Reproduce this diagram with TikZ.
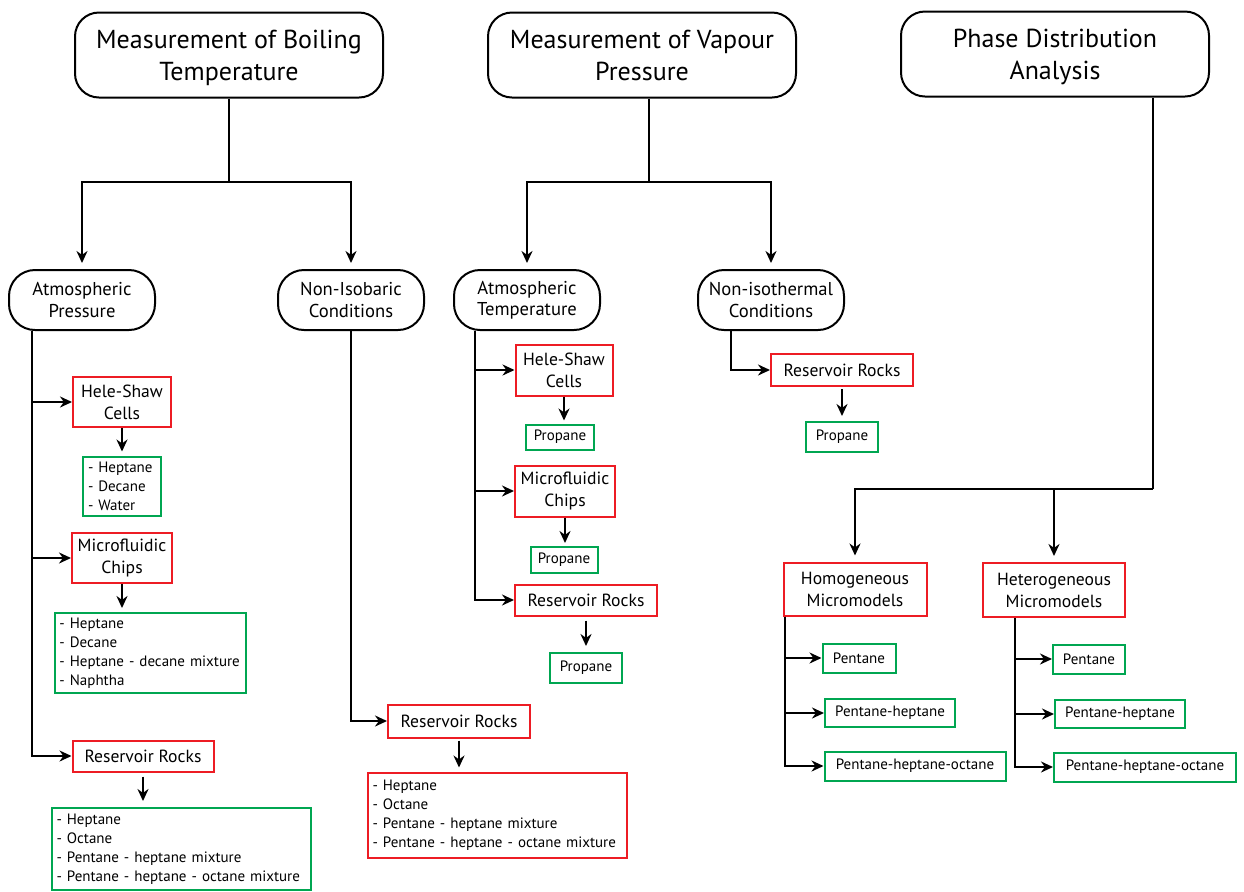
\documentclass[tikz,border=0pt]{standalone}
\usepackage{fontspec}
\setmainfont{PT Sans}
\usetikzlibrary{arrows.meta,positioning}
\definecolor{boxred}{RGB}{237,28,36}
\definecolor{boxgreen}{RGB}{0,166,81}

\tikzset{
  base/.style={line width=1pt, inner sep=0pt, align=center},
  topbox/.style={base, draw, rounded corners=12pt, minimum width=154pt, minimum height=42.5pt, text depth=0pt, font=\fontsize{13}{16}\selectfont},
  subbox/.style={base, draw, rounded corners=13pt, minimum width=73pt, minimum height=30pt, font=\fontsize{9.3}{10.7}\selectfont},
  methbox/.style={base, draw=boxred, font=\fontsize{8.8}{11}\selectfont},
  fluidbox/.style={base, draw=boxgreen, font=\fontsize{7.5}{9.5}\selectfont},
  listbox/.style={fluidbox, align=left, inner xsep=2.5pt},
  link/.style={line width=1pt},
  arr/.style={line width=1pt, -{Stealth[length=6pt,width=5.5pt]}},
}

\begin{document}
\begin{tikzpicture}[x=0.5pt, y=-0.5pt]
\useasboundingbox (0,0) rectangle (1244,891);
% Top level
\node[topbox] (boil) at (229,55) {Measurement of Boiling\\Temperature};
\node[topbox] (vap) at (642,55) {Measurement of Vapour\\Pressure};
\node[topbox] (phase) at (1055,54) {Phase Distribution\\Analysis};
% Conditions
\node[subbox] (atmp) at (82,300) {Atmospheric\\Pressure};
\node[subbox] (noniso) at (351,300) {Non-Isobaric\\Conditions};
\node[subbox] (atmt) at (527,300) {Atmospheric\\Temperature};
\node[subbox] (nonisot) at (771,300) {Non-isothermal\\Conditions};
% Boiling temperature, atmospheric pressure
\node[methbox, minimum width=49pt, minimum height=25pt] (hs1) at (122,402) {Hele-Shaw\\Cells};
\node[listbox, text width=34pt, minimum height=29.5pt] (gl1) at (122,486) {- Heptane\\- Decane\\- Water};
\node[methbox, minimum width=50pt, minimum height=25pt] (mc1) at (122,558) {Microfluidic\\Chips};
\node[listbox, text width=90.5pt, minimum height=40pt] (gl2) at (150,653) {- Heptane\\- Decane\\- Heptane - decane mixture\\- Naphtha};
\node[methbox, minimum width=70.5pt, minimum height=15.5pt] (rr1) at (143,756) {Reservoir Rocks};
\node[listbox, text width=124.5pt, minimum height=41pt] (gl3) at (181,849) {- Heptane\\- Octane\\- Pentane - heptane mixture\\- Pentane - heptane - octane mixture};
% Boiling temperature, non-isobaric
\node[methbox, minimum width=71pt, minimum height=16.5pt] (rr2) at (459,721) {Reservoir Rocks};
\node[listbox, draw=boxred, text width=124.5pt, minimum height=42.5pt] (rl2) at (497,815) {- Heptane\\- Octane\\- Pentane - heptane mixture\\- Pentane - heptane - octane mixture};
% Vapour pressure, atmospheric temperature
\node[methbox, minimum width=48.5pt, minimum height=25.5pt] (hs2) at (564,370) {Hele-Shaw\\Cells};
\node[fluidbox, minimum width=34pt, minimum height=12.5pt] (p1) at (560,437) {Propane};
\node[methbox, minimum width=50pt, minimum height=25.5pt] (mc2) at (565,491) {Microfluidic\\Chips};
\node[fluidbox, minimum width=33.5pt, minimum height=13pt] (p2) at (564,560) {Propane};
\node[methbox, minimum width=71pt, minimum height=15.5pt] (rr3) at (586,600) {Reservoir Rocks};
\node[fluidbox, minimum width=36pt, minimum height=15pt] (p3) at (586,668) {Propane};
% Vapour pressure, non-isothermal
\node[methbox, minimum width=71pt, minimum height=16pt] (rr4) at (842,370) {Reservoir Rocks};
\node[fluidbox, minimum width=36pt, minimum height=15pt] (p4) at (842,437) {Propane};
% Phase distribution
\node[methbox, minimum width=71.5pt, minimum height=26.5pt] (hom) at (855,589) {Homogeneous\\Micromodels};
\node[methbox, minimum width=71pt, minimum height=27pt] (het) at (1054,590) {Heterogeneous\\Micromodels};
\node[fluidbox, minimum width=36.5pt, minimum height=14.5pt] (k1) at (859,658) {Pentane};
\node[fluidbox, minimum width=65pt, minimum height=14pt] (k2) at (890,713) {Pentane-heptane};
\node[fluidbox, minimum width=90.5pt, minimum height=14.5pt] (k3) at (915,766) {Pentane-heptane-octane};
\node[fluidbox, minimum width=36pt, minimum height=14.5pt] (k4) at (1089,659) {Pentane};
\node[fluidbox, minimum width=65pt, minimum height=14pt] (k5) at (1120,714) {Pentane-heptane};
\node[fluidbox, minimum width=91pt, minimum height=14.5pt] (k6) at (1145,767) {Pentane-heptane-octane};

% Connectors from the top boxes
\coordinate (boiljoin) at (229,182);
\coordinate (vapjoin) at (649,182);
\coordinate (phjoin) at (1153,489);
\draw[link] (boil.south) -- (boiljoin);
\draw[arr, shorten >=3pt] (boiljoin) -| (atmp.north);
\draw[arr, shorten >=3pt] (boiljoin) -| (noniso.north);
\draw[link] (vapjoin |- vap.south) -- (vapjoin);
\draw[arr, shorten >=3pt] (vapjoin) -| (atmt.north);
\draw[arr, shorten >=3pt] (vapjoin) -| (nonisot.north);
\draw[link] (phjoin |- phase.south) -- (phjoin);
\draw[arr, shorten >=3pt] (phjoin) -| (hom.north);
\draw[arr, shorten >=3pt] (het.north |- phjoin) -- (het.north);
% Branches
\foreach \m in {hs1,mc1,rr1}
  \draw[arr] ([xshift=12pt]atmp.south west) |- (\m.west);
\draw[arr] (noniso.south) |- (rr2.west);
\foreach \m in {hs2,mc2,rr3}
  \draw[arr] ([xshift=11pt]atmt.south west) |- (\m.west);
\draw[arr] ([xshift=17pt]nonisot.south west) |- (rr4.west);
\foreach \k in {k1,k2,k3}
  \draw[arr] ([xshift=1pt]hom.south west) |- (\k.west);
\foreach \k in {k4,k5,k6}
  \draw[arr] ([xshift=16.5pt]het.south west) |- (\k.west);
% Methods to fluids
\draw[arr, shorten >=2pt] (hs1.south) -- (gl1.north);
\draw[arr, shorten >=2pt] (mc1.south) -- (mc1.south |- gl2.north);
\draw[arr, shorten <=2pt, shorten >=3pt] (rr1.south) -- (rr1.south |- gl3.north);
\draw[arr, shorten <=1pt, shorten >=2pt] (rr2.south) -- (rr2.south |- rl2.north);
\draw[arr, shorten >=1.5pt] (hs2.south) -- (hs2.south |- p1.north);
\draw[arr, shorten >=1.5pt] (mc2.south) -- (mc2.south |- p2.north);
\draw[arr, shorten <=2pt, shorten >=3pt] (rr3.south) -- (p3.north);
\draw[arr, shorten <=1pt, shorten >=2.5pt] (rr4.south) -- (p4.north);
\end{tikzpicture}
\end{document}
